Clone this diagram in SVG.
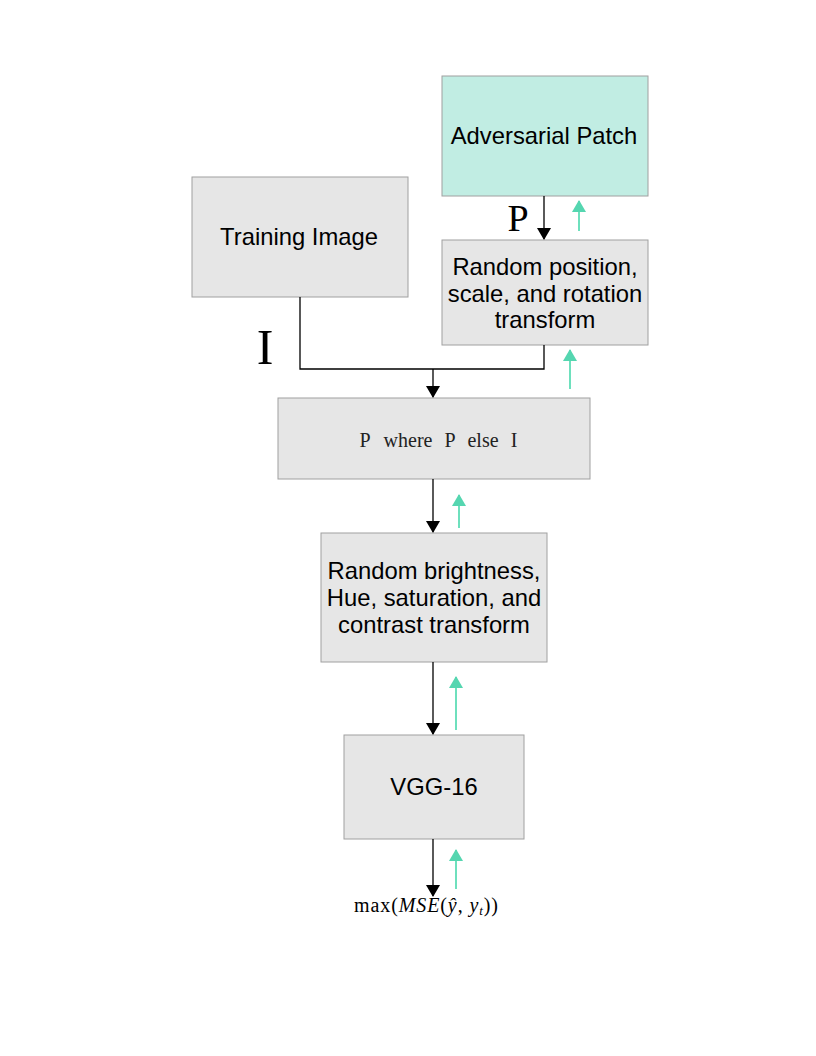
<svg xmlns="http://www.w3.org/2000/svg" width="816" height="1056" viewBox="0 0 816 1056">
<style>
.box{fill:#e6e6e6;stroke:#a0a0a0;stroke-width:1}
.patch{fill:#c1ede3;stroke:#a0a0a0;stroke-width:1}
.lbl{font-family:"Liberation Sans",Arial,sans-serif;font-size:23.8px;fill:#000;text-anchor:middle}
.serif{font-family:"Liberation Serif","Times New Roman",serif;fill:#000}
.pw{font-family:"Liberation Serif","Times New Roman",serif;font-size:20px;fill:#222;text-anchor:middle}
.k{stroke:#000;stroke-width:1.3;fill:none}
.t{stroke:#6ee0bd;stroke-width:2;fill:none}
</style>
<defs>
<marker id="ak" markerWidth="12" markerHeight="14" refX="11" refY="7" orient="auto" markerUnits="userSpaceOnUse"><path d="M0,0 L12,7 L0,14 z" fill="#000"/></marker>
<marker id="at" markerWidth="12" markerHeight="14" refX="11" refY="7" orient="auto" markerUnits="userSpaceOnUse"><path d="M0,0 L12,7 L0,14 z" fill="#55d6b0"/></marker>
</defs>
<g id="adversarial-patch"><rect class="patch" x="442" y="76" width="206" height="120"/><text class="lbl" x="544" y="144">Adversarial Patch</text></g>
<g id="training-image"><rect class="box" x="192" y="177" width="216" height="120"/><text class="lbl" x="299" y="245">Training Image</text></g>
<g id="random-position"><rect class="box" x="442" y="240" width="206" height="105"/><text class="lbl" x="545" y="275">Random position,</text><text class="lbl" x="545" y="302">scale, and rotation</text><text class="lbl" x="545" y="328">transform</text></g>
<g id="p-where"><rect class="box" x="278" y="398" width="312" height="81"/>
<text class="pw" y="447"><tspan x="365">P</tspan><tspan x="408">where</tspan><tspan x="450">P</tspan><tspan x="483">else</tspan><tspan x="514">I</tspan></text></g>
<g id="random-brightness"><rect class="box" x="321" y="533" width="226" height="129"/><text class="lbl" x="434" y="579">Random brightness,</text><text class="lbl" x="434" y="606">Hue, saturation, and</text><text class="lbl" x="434" y="633">contrast transform</text></g>
<g id="vgg16"><rect class="box" x="344" y="735" width="180" height="104"/><text class="lbl" x="434" y="795">VGG-16</text></g>
<g id="labels">
<text class="serif" x="518" y="231" font-size="38" text-anchor="middle">P</text>
<text class="serif" x="265" y="364" font-size="50" text-anchor="middle">I</text>
<text class="serif" x="354" y="912" font-size="20" textLength="144" lengthAdjust="spacing">max(<tspan font-style="italic">MSE</tspan>(<tspan font-style="italic">ŷ</tspan>, <tspan font-style="italic">y</tspan><tspan font-size="13" font-style="italic" dy="3">t</tspan><tspan dy="-3">))</tspan></text>
</g>
<g id="connectors">
<line class="k" x1="544" y1="196" x2="544" y2="239" marker-end="url(#ak)"/>
<line class="t" x1="579" y1="231" x2="579" y2="201" marker-end="url(#at)"/>
<polyline class="k" points="300,297 300,369 544,369 544,345"/>
<line class="k" x1="433" y1="369" x2="433" y2="397" marker-end="url(#ak)"/>
<line class="t" x1="570" y1="389" x2="570" y2="350" marker-end="url(#at)"/>
<line class="k" x1="433" y1="479" x2="433" y2="532" marker-end="url(#ak)"/>
<line class="t" x1="459" y1="528" x2="459" y2="495" marker-end="url(#at)"/>
<line class="k" x1="433" y1="662" x2="433" y2="734" marker-end="url(#ak)"/>
<line class="t" x1="456" y1="730" x2="456" y2="677" marker-end="url(#at)"/>
<line class="k" x1="433" y1="839" x2="433" y2="896" marker-end="url(#ak)"/>
<line class="t" x1="456" y1="889" x2="456" y2="850" marker-end="url(#at)"/>
</g>
</svg>
